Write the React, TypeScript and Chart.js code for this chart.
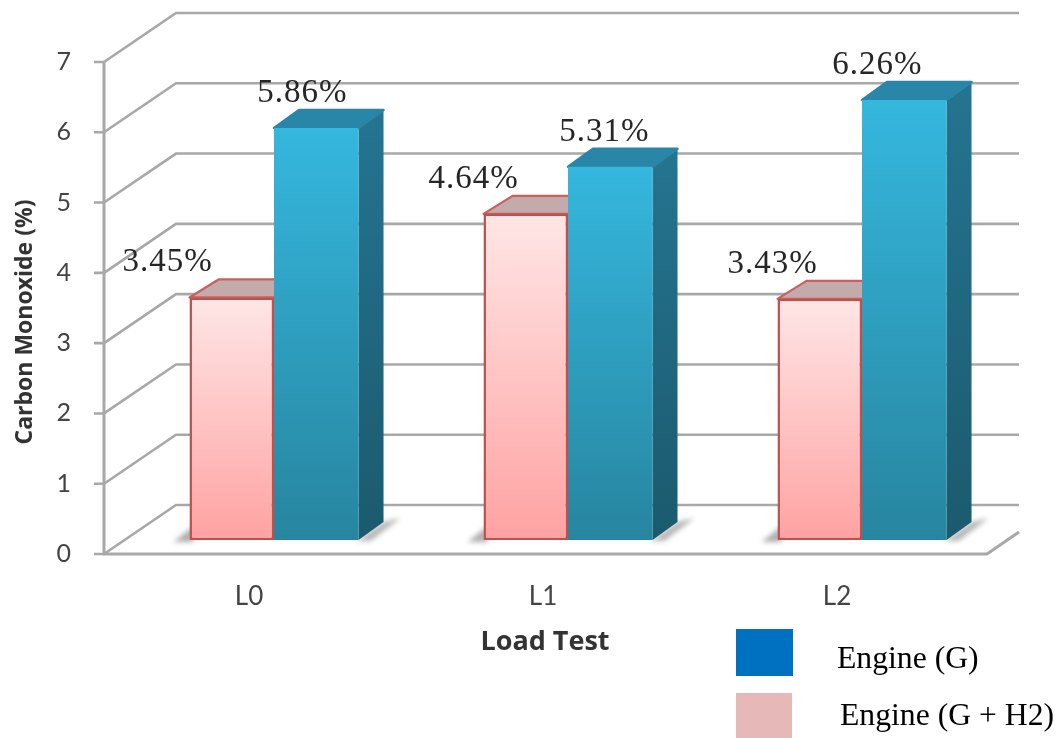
import React, { useEffect, useRef } from "react";
import { Chart, registerables } from "chart.js";

Chart.register(...registerables);

const categories = ["L0", "L1", "L2"];
const seriesH2Name = "Engine (G + H2)";
const seriesGName = "Engine (G)";
const valuesH2 = [3.45, 4.64, 3.43];
const valuesG = [5.86, 5.31, 6.26];
const yTitle = "Carbon Monoxide (%)";
const xTitle = "Load Test";

const DX = 72, DY = -49; // wall depth
const BDX = 25, BDY = -18; // bar depth
const GRID = "#a8a8a8";
const SANS = "Lato, 'Open Sans', sans-serif";
const TITLE_SANS = "'Open Sans', sans-serif";
const SERIF = "'Liberation Serif', serif";
const RIGHT_END = 1019;

const vGrad = (chart: any, top: number, bottom: number, c0: string, c1: string) => {
  const g = chart.ctx.createLinearGradient(0, top, 0, bottom);
  g.addColorStop(0, c0);
  g.addColorStop(1, c1);
  return g;
};

const barFill = (c0: string, c1: string) => (context: any) => {
  const chart = context.chart;
  const s = chart.scales.bars;
  if (!s || !context.parsed) return c1;
  const t = s.getPixelForValue(context.parsed.y);
  const b = s.getPixelForValue(0);
  if (!Number.isFinite(t) || !Number.isFinite(b)) return c1;
  return vGrad(chart, t, b, c0, c1);
};

const poly = (ctx: any, pts: number[][], fill?: any, stroke?: string, lw = 2) => {
  ctx.beginPath();
  pts.forEach((p, i) => (i ? ctx.lineTo(p[0], p[1]) : ctx.moveTo(p[0], p[1])));
  ctx.closePath();
  if (fill) { ctx.fillStyle = fill; ctx.fill(); }
  if (stroke) { ctx.strokeStyle = stroke; ctx.lineWidth = lw; ctx.lineJoin = "round"; ctx.stroke(); }
};

const SOFT = "blur(0.6px)";

const wallPlugin = {
  id: "wall",
  beforeDraw(chart: any) {
    chart.ctx.filter = SOFT;
  },
  beforeDatasetsDraw(chart: any) {
    const { ctx } = chart;
    const y = chart.scales.y;
    const axisX = 104;
    ctx.save();
    ctx.lineCap = "butt";
    ctx.strokeStyle = GRID;
    ctx.lineWidth = 2.6;
    for (let v = 0; v <= 7; v++) {
      const py = y.getPixelForValue(v);
      ctx.beginPath();
      ctx.moveTo(axisX - 10, py);
      ctx.lineTo(axisX, py);
      ctx.lineTo(axisX + DX, py + DY);
      ctx.lineTo(RIGHT_END, py + DY);
      ctx.stroke();
    }
    const y0 = y.getPixelForValue(0);
    const y7 = y.getPixelForValue(7);
    ctx.lineWidth = 3;
    ctx.beginPath();
    ctx.moveTo(axisX, y7);
    ctx.lineTo(axisX, y0);
    ctx.lineTo(987, y0);
    ctx.lineTo(RIGHT_END, y0 - 22);
    ctx.stroke();

    // floor shadows, then side and top faces of every bar
    const metaA = chart.getDatasetMeta(0).data;
    const metaB = chart.getDatasetMeta(1).data;
    metaA.forEach((a: any, i: number) => {
      const b = metaB[i];
      const l = a.x - a.width / 2;
      const r = b.x + b.width / 2;
      const base = a.base;
      ctx.save();
      ctx.filter = "blur(2.5px)";
      poly(ctx, [[l - 16, base + 2], [l + 4, base - 14], [l + 4, base + 2]], "rgba(110,110,110,0.55)");
      poly(ctx, [[r - 2, base + 1], [r + BDX, base + BDY], [r + 42, base - 22], [r + 12, base + 1]], "rgba(110,110,110,0.5)");
      ctx.restore();
    });
    [metaA, metaB].forEach((meta: any[], ds: number) => {
      meta.forEach((el: any) => {
        const l = el.x - el.width / 2;
        const r = el.x + el.width / 2;
        const t = el.y;
        const bt = el.base;
        if (ds === 1) {
          poly(ctx, [[r, t], [r + BDX, t + BDY], [r + BDX, bt + BDY], [r, bt]],
            vGrad(chart, t, bt, "#24738f", "#1b5a6e"));
          poly(ctx, [[l, t], [l + BDX, t + BDY], [r + BDX, t + BDY], [r, t]], "#2a86a8", "#2a86a8", 2.5);
        } else {
          poly(ctx, [[l, t], [l + BDX + 4, t + BDY], [r + BDX, t + BDY], [r, t]], "#c3abab", "#c9605e", 2.2);
        }
      });
    });
    ctx.restore();
  },
  afterDatasetsDraw(chart: any) {
    const { ctx } = chart;
    ctx.save();
    // data labels
    const nudges = [[-64, -14], [-52, -6], [-47, -27]];
    ctx.font = `33px ${SERIF}`;
    ctx.letterSpacing = "1px";
    ctx.fillStyle = "#262626";
    ctx.textAlign = "center";
    ctx.textBaseline = "alphabetic";
    [0, 1].forEach((ds) => {
      const vals = ds === 0 ? valuesH2 : valuesG;
      chart.getDatasetMeta(ds).data.forEach((el: any, i: number) => {
        ctx.fillText(vals[i].toFixed(2) + "%", el.x + nudges[i][ds], el.y - 26);
      });
    });
    ctx.letterSpacing = "0px";
    // axis titles
    ctx.fillStyle = "#333333";
    ctx.textAlign = "center";
    ctx.textBaseline = "middle";
    ctx.font = `bold 27px ${TITLE_SANS}`;
    ctx.fillText(xTitle, 545, 642);
    ctx.font = `bold 23px ${TITLE_SANS}`;
    ctx.translate(25, 322);
    ctx.rotate(-Math.PI / 2);
    ctx.fillText(yTitle, 0, 0);
    ctx.restore();

    // legend: sharp, as in the reference
    ctx.save();
    ctx.filter = "none";
    ctx.fillStyle = "#0070c0";
    ctx.fillRect(736, 629, 57, 47);
    ctx.fillStyle = "#e6b8b7";
    ctx.fillRect(736, 693, 56, 45);
    ctx.fillStyle = "#000";
    ctx.font = `31.7px ${SERIF}`;
    ctx.textAlign = "left";
    ctx.textBaseline = "alphabetic";
    ctx.fillText(seriesGName, 837, 668);
    ctx.fillText(seriesH2Name, 840, 725);
    ctx.restore();
  },
};

export default function App() {
  const ref = useRef<HTMLCanvasElement>(null);
  useEffect(() => {
    const chart = new Chart(ref.current!, {
      type: "bar",
      data: {
        labels: categories,
        datasets: [
          {
            label: seriesH2Name,
            data: valuesH2,
            yAxisID: "bars",
            backgroundColor: barFill("#ffe6e6", "#ffa2a2"),
            borderColor: "#c0504d",
            borderWidth: 2.5,
            borderSkipped: false,
          },
          {
            label: seriesGName,
            data: valuesG,
            yAxisID: "bars",
            backgroundColor: barFill("#35b7de", "#27859f"),
            borderWidth: 0,
          },
        ],
      },
      options: {
        responsive: false,
        animation: false,
        layout: { padding: { top: 62, right: 52, left: 0, bottom: 0 } },
        categoryPercentage: 0.575,
        barPercentage: 1,
        plugins: { legend: { display: false }, tooltip: { enabled: false } },
        scales: {
          x: {
            grid: { display: false, drawTicks: false },
            border: { display: false },
            ticks: {
              labelOffset: -25,
              padding: 27,
              color: "#444444",
              font: { family: SANS, size: 26 },
              maxRotation: 0,
            },
            afterFit: (s: any) => {
              s.height = 184;
              s.paddingLeft = 0;
              s.paddingRight = 0;
            },
          },
          y: {
            min: 0,
            max: 7,
            position: "left",
            grid: { display: false, drawTicks: false },
            border: { display: false },
            ticks: {
              stepSize: 1,
              padding: 56,
              color: "#444444",
              font: { family: SANS, size: 25 },
            },
            afterFit: (s: any) => {
              s.width = 127;
              s.paddingTop = 0;
              s.paddingBottom = 0;
            },
          },
          bars: {
            min: -0.2,
            max: 6.8,
            display: false,
          },
        },
      } as any,
      plugins: [wallPlugin],
    });
    return () => chart.destroy();
  }, []);
  return (
    <canvas
      ref={ref}
      width={1061}
      height={738}
      style={{ position: "absolute", left: 0, top: 0, width: 1061, height: 738 }}
    />
  );
}
